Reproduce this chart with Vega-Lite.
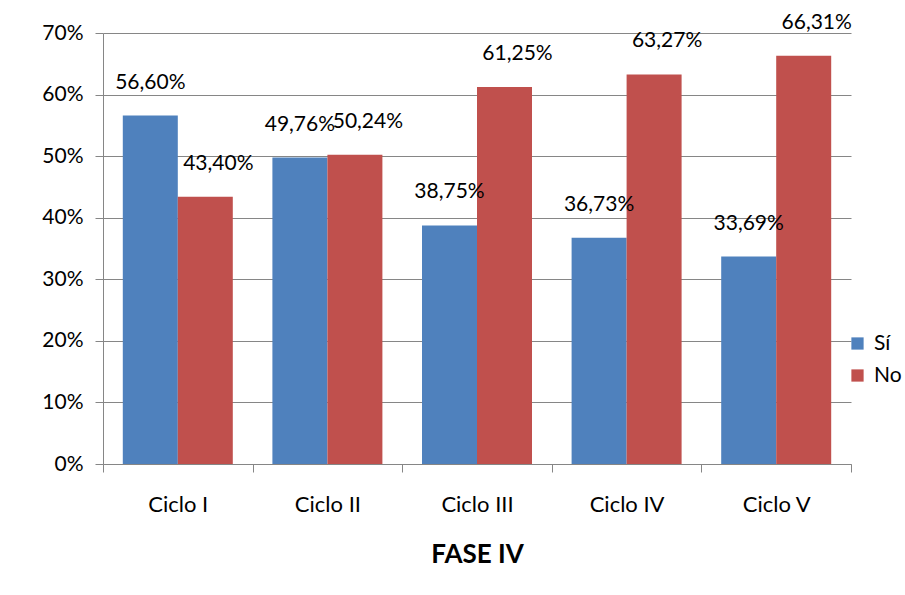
{
  "$schema": "https://vega.github.io/schema/vega-lite/v6.json",
  "autosize": {"type": "none"},
  "width": 748,
  "height": 431,
  "padding": {"left": 103, "top": 33, "right": 54, "bottom": 131},
  "background": "white",
  "config": {
    "view": {"stroke": null},
    "font": "Lato",
    "axis": {"labelFont": "Lato", "titleFont": "Lato", "labelColor": "#000000", "titleColor": "#000000", "domainColor": "#868686", "tickColor": "#868686", "gridColor": "#868686"},
    "legend": {"labelFont": "Lato", "labelColor": "#000000"}
  },
  "data": {
    "values": [
      {"ciclo": "Ciclo I", "resp": "Sí", "valor": 0.5660, "label": "56,60%"},
      {"ciclo": "Ciclo I", "resp": "No", "valor": 0.4340, "label": "43,40%"},
      {"ciclo": "Ciclo II", "resp": "Sí", "valor": 0.4976, "label": "49,76%"},
      {"ciclo": "Ciclo II", "resp": "No", "valor": 0.5024, "label": "50,24%"},
      {"ciclo": "Ciclo III", "resp": "Sí", "valor": 0.3875, "label": "38,75%"},
      {"ciclo": "Ciclo III", "resp": "No", "valor": 0.6125, "label": "61,25%"},
      {"ciclo": "Ciclo IV", "resp": "Sí", "valor": 0.3673, "label": "36,73%"},
      {"ciclo": "Ciclo IV", "resp": "No", "valor": 0.6327, "label": "63,27%"},
      {"ciclo": "Ciclo V", "resp": "Sí", "valor": 0.3369, "label": "33,69%"},
      {"ciclo": "Ciclo V", "resp": "No", "valor": 0.6631, "label": "66,31%"}
    ]
  },
  "encoding": {
    "x": {
      "field": "ciclo", "type": "nominal", "sort": null,
      "scale": {"paddingInner": 0, "paddingOuter": 0},
      "axis": {"title": "FASE IV", "titleFontSize": 26, "titleFontWeight": "bold", "titlePadding": 26, "labelAngle": 0, "labelFontSize": 22, "labelPadding": 22, "tickSize": 8, "tickBand": "extent", "domainWidth": 1}
    },
    "xOffset": {"field": "resp", "type": "nominal", "sort": ["Sí", "No"], "scale": {"paddingInner": 0, "paddingOuter": 0.36}},
    "y": {
      "field": "valor", "type": "quantitative",
      "scale": {"domain": [0, 0.7]},
      "axis": {"title": null, "format": ".0%", "values": [0, 0.1, 0.2, 0.3, 0.4, 0.5, 0.6, 0.7], "labelFontSize": 21, "labelPadding": 12, "tickSize": 8, "grid": true, "gridWidth": 1}
    }
  },
  "layer": [
    {
      "mark": {"type": "bar"},
      "encoding": {
        "color": {
          "field": "resp", "type": "nominal",
          "scale": {"domain": ["Sí", "No"], "range": ["#4F81BD", "#C0504D"]},
          "legend": {"title": null, "orient": "none", "legendX": 744, "legendY": 300, "labelFontSize": 21, "symbolType": "square", "symbolSize": 150, "symbolStrokeWidth": 0, "rowPadding": 10, "labelOffset": 6}
        }
      }
    },
    {
      "transform": [{"filter": "datum.resp === 'Sí'"}],
      "mark": {"type": "text", "fontSize": 21, "dy": -33, "dx": 0, "baseline": "middle", "color": "#000000"},
      "encoding": {"text": {"field": "label"}}
    },
    {
      "transform": [{"filter": "datum.resp === 'No'"}],
      "mark": {"type": "text", "fontSize": 21, "dy": -33, "dx": 13, "baseline": "middle", "color": "#000000"},
      "encoding": {"text": {"field": "label"}}
    }
  ]
}
